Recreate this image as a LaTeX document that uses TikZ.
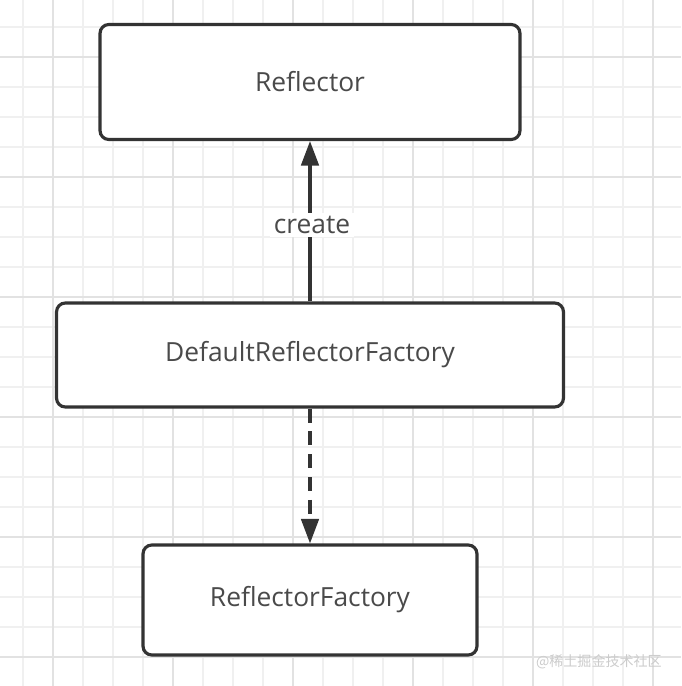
\documentclass[tikz,border=0pt]{standalone}
\usepackage{fontspec}
\setmainfont{Open Sans}
\newfontfamily\cjkfont{Noto Sans CJK SC}
\usetikzlibrary{arrows.meta}
\definecolor{gridminor}{HTML}{F0F0F0}
\definecolor{gridmajor}{HTML}{E2E2E2}
\definecolor{edgecol}{HTML}{333333}
\definecolor{textcol}{HTML}{4A4A4A}
\tikzset{
  classbox/.style={draw=edgecol, line width=1.8pt, rounded corners=5pt, fill=white,
    text=textcol, font=\fontsize{15}{18}\selectfont, inner sep=0pt},
  link/.style={draw=edgecol, line width=1.8pt, -{Triangle[length=14pt,width=10pt]}},
}
\begin{document}
\begin{tikzpicture}[x=0.02cm, y=-0.02cm]
    \useasboundingbox (0,0) rectangle (681,686);
    \fill[white] (0,0) rectangle (681,686);
    \foreach \gx in {23,53,...,683}
      \draw[gridminor, line width=0.6pt] (\gx,0) -- (\gx,686);
    \foreach \gy in {27,57,...,686}
      \draw[gridminor, line width=0.6pt] (0,\gy) -- (681,\gy);
    \foreach \gx in {53,173,...,683}
      \draw[gridmajor, line width=0.6pt] (\gx,0) -- (\gx,686);
    \foreach \gy in {57,177,...,686}
      \draw[gridmajor, line width=0.6pt] (0,\gy) -- (681,\gy);
    \node[classbox, minimum width=8.4cm, minimum height=2.3cm] (reflector) at (310,82) {Reflector};
    \node[classbox, minimum width=10.14cm, minimum height=2.08cm] (defaultFactory) at (310,355) {DefaultReflectorFactory};
    \node[classbox, minimum width=6.68cm, minimum height=2.2cm] (factory) at (310,600) {ReflectorFactory};
    \draw[link] (defaultFactory.north) -- (reflector.south);
    \node[fill=white, text=textcol, font=\fontsize{15}{18}\selectfont, inner sep=2pt] (createLabel) at (312,225) {create};
    \draw[link, dash pattern=on 8pt off 5pt] (defaultFactory.south) -- (factory.north);
    \node[anchor=east, text=gray!40, font=\cjkfont\fontsize{8}{9}\selectfont] (mark) at (668,662) {@稀土掘金技术社区};
\end{tikzpicture}
\end{document}
